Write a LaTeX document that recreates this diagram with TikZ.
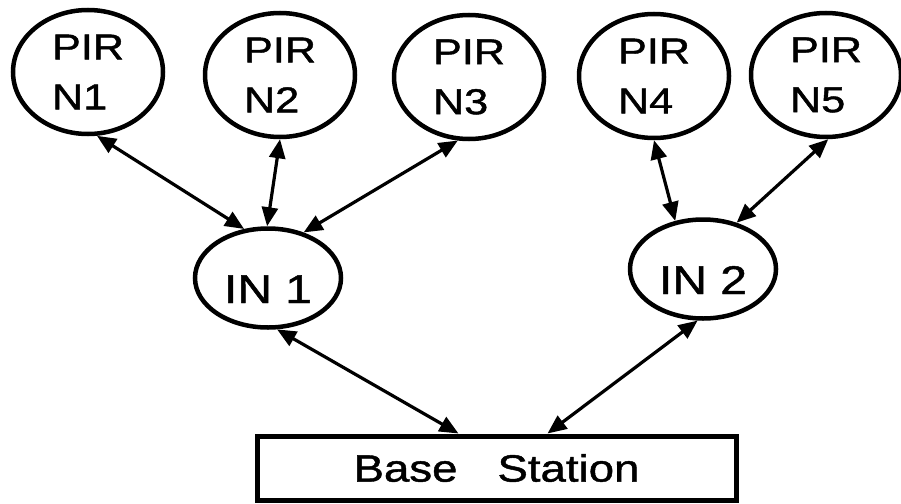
\documentclass[tikz,border=0pt]{standalone}
\usepackage{fontspec}
\setmainfont{Liberation Sans}[FakeStretch=1.2,FakeBold=1.2]
\usetikzlibrary{arrows.meta,shapes.geometric}

\begin{document}
\begin{tikzpicture}[
  x=1pt, y=-1pt,
  font=\fontsize{36}{50}\selectfont,
  pir/.style={draw, ellipse, line width=4.5pt, inner sep=0pt, minimum width=150pt, minimum height=124pt, align=left},
  inode/.style={draw, ellipse, line width=4.5pt, inner sep=0pt, minimum width=146pt, minimum height=99pt, font=\fontsize{40}{40}\selectfont, text height=50pt, text depth=0pt},
  station/.style={draw, rectangle, line width=5pt, inner sep=0pt, minimum width=479pt, minimum height=64pt, font=\fontsize{38}{38}\selectfont},
  arr/.style={{Triangle[length=19pt,width=16pt]}-{Triangle[length=19pt,width=16pt]}, line width=3.2pt},
]
\useasboundingbox (0,0) rectangle (901,503);
\node[pir] (n1) at (88,72) {PIR\\N1};
\node[pir] (n2) at (280,75) {PIR\\N2};
\node[pir] (n3) at (469,77) {PIR\\N3};
\node[pir] (n4) at (654,76) {PIR\\N4};
\node[pir] (n5) at (826,75) {PIR\\N5};
\node[inode] (in1) at (268,278) {IN 1};
\node[inode] (in2) at (703,269) {IN 2};
\node[station] (bs) at (496.5,468) {Base\hspace{40pt}Station};
\draw[arr] (n1.-82) -- (in1.116);
\draw[arr] (n2.-90) -- (in1.91);
\draw[arr] (n3.-100) -- (in1.52);
\draw[arr] (n4.-90) -- (in2.120);
\draw[arr] (n5.-88) -- (in2.54);
\draw[arr] (in1.-80) -- ([xshift=-38pt]bs.north);
\draw[arr] (in2.-96) -- ([xshift=51pt]bs.north);
\end{tikzpicture}
\end{document}
